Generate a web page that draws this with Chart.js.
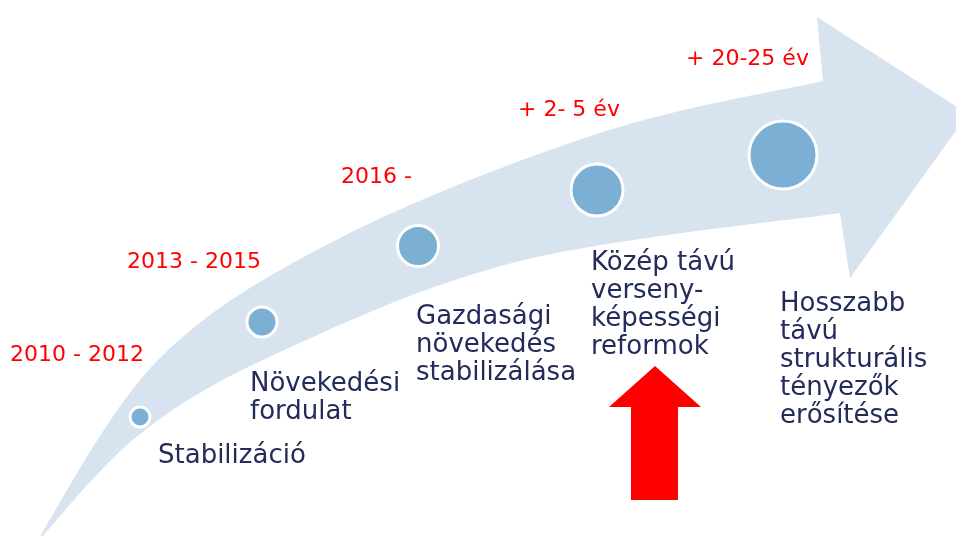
<!DOCTYPE html>
<html>
<head>
<meta charset="utf-8">
<script src="https://cdn.jsdelivr.net/npm/chart.js@4"></script>
<style>
  html, body { margin: 0; padding: 0; background: #fff; overflow: hidden; }
  #wrap { width: 956px; height: 536px; position: relative; }
</style>
</head>
<body>
<div id="wrap"><canvas id="myChart"></canvas></div>
<script>
// stages along the arrow
const periods = ['2010 - 2012', '2013 - 2015', '2016 -', '+ 2- 5 év', '+ 20-25 év'];
const stages = [
  ['Stabilizáció'],
  ['Növekedési', 'fordulat'],
  ['Gazdasági', 'növekedés', 'stabilizálása'],
  ['Közép távú', 'verseny-', 'képességi', 'reformok'],
  ['Hosszabb', 'távú', 'strukturális', 'tényezők', 'erősítése']
];
const bubbleX = [140, 262, 418, 597, 783];
const bubbleY = [417, 322, 246, 190, 155];
const bubbleR = [10, 15, 20.5, 26, 34];

// layout (value space of the hidden axes)
const periodPos = [[10, 361], [127, 268], [341, 183], [518, 116], [686, 65]];
const stagePos = [[158, 463], [250, 391], [416, 324], [591, 270], [780, 311]];
const upperEdge = [[34, 546], [158, 360], [340, 238], [600, 133], [823, 81]];
const lowerEdge = [[34, 546], [140, 434], [280, 352], [520, 261], [840, 213]];
const arrowHead = [[817, 17], [968, 114], [850, 278]];
const redArrow = [[655, 366], [701, 407], [678, 407], [678, 500], [631, 500], [631, 407], [609, 407]];

function curveThrough(ctx, pts) {
  for (let i = 0; i < pts.length - 1; i++) {
    const p0 = pts[Math.max(i - 1, 0)], p1 = pts[i], p2 = pts[i + 1], p3 = pts[Math.min(i + 2, pts.length - 1)];
    ctx.bezierCurveTo(
      p1[0] + (p2[0] - p0[0]) / 6, p1[1] + (p2[1] - p0[1]) / 6,
      p2[0] - (p3[0] - p1[0]) / 6, p2[1] - (p3[1] - p1[1]) / 6,
      p2[0], p2[1]);
  }
}

const arrowPlugin = {
  id: 'arrowPlugin',
  beforeDatasetsDraw(chart) {
    const ctx = chart.ctx, sx = chart.scales.x, sy = chart.scales.y;
    const tp = p => [sx.getPixelForValue(p[0]), sy.getPixelForValue(p[1])];
    const up = upperEdge.map(tp), lo = lowerEdge.map(tp).reverse();
    ctx.save();
    ctx.beginPath();
    ctx.moveTo(up[0][0], up[0][1]);
    curveThrough(ctx, up);
    arrowHead.map(tp).forEach(p => ctx.lineTo(p[0], p[1]));
    ctx.lineTo(lo[0][0], lo[0][1]);
    curveThrough(ctx, lo);
    ctx.closePath();
    ctx.fillStyle = '#d7e3ef';
    ctx.fill();
    ctx.restore();
  },
  afterDatasetsDraw(chart) {
    const ctx = chart.ctx, sx = chart.scales.x, sy = chart.scales.y;
    ctx.save();
    ctx.textBaseline = 'alphabetic';
    ctx.textAlign = 'left';
    ctx.font = '22px "DejaVu Sans"';
    ctx.fillStyle = '#ff0000';
    periods.forEach((t, i) => {
      ctx.fillText(t, sx.getPixelForValue(periodPos[i][0]), sy.getPixelForValue(periodPos[i][1]));
    });
    ctx.font = '26px "DejaVu Sans"';
    ctx.fillStyle = '#232b5b';
    stages.forEach((lines, i) => {
      lines.forEach((t, j) => {
        ctx.fillText(t, sx.getPixelForValue(stagePos[i][0]), sy.getPixelForValue(stagePos[i][1] + j * 28));
      });
    });
    ctx.beginPath();
    redArrow.forEach((p, k) => {
      const x = sx.getPixelForValue(p[0]), y = sy.getPixelForValue(p[1]);
      if (k === 0) ctx.moveTo(x, y); else ctx.lineTo(x, y);
    });
    ctx.closePath();
    ctx.fillStyle = '#ff0000';
    ctx.fill();
    ctx.restore();
  }
};

const ctx1 = document.getElementById('myChart').getContext('2d');
const myChart = new Chart(ctx1, {
  type: 'bubble',
  data: {
    datasets: [{
      label: 'Szakaszok',
      data: bubbleX.map((x, i) => ({ x: x, y: bubbleY[i], r: bubbleR[i] })),
      backgroundColor: '#7bafd4',
      borderColor: '#ffffff',
      borderWidth: 3,
      hoverRadius: 0
    }]
  },
  options: {
    responsive: true,
    maintainAspectRatio: false,
    animation: false,
    events: [],
    layout: { padding: 0, autoPadding: false },
    scales: {
      x: { type: 'linear', min: 0, max: 956, display: false },
      y: { type: 'linear', min: 0, max: 536, reverse: true, display: false }
    },
    plugins: {
      legend: { display: false },
      tooltip: { enabled: false }
    }
  },
  plugins: [arrowPlugin]
});
</script>
</body>
</html>
